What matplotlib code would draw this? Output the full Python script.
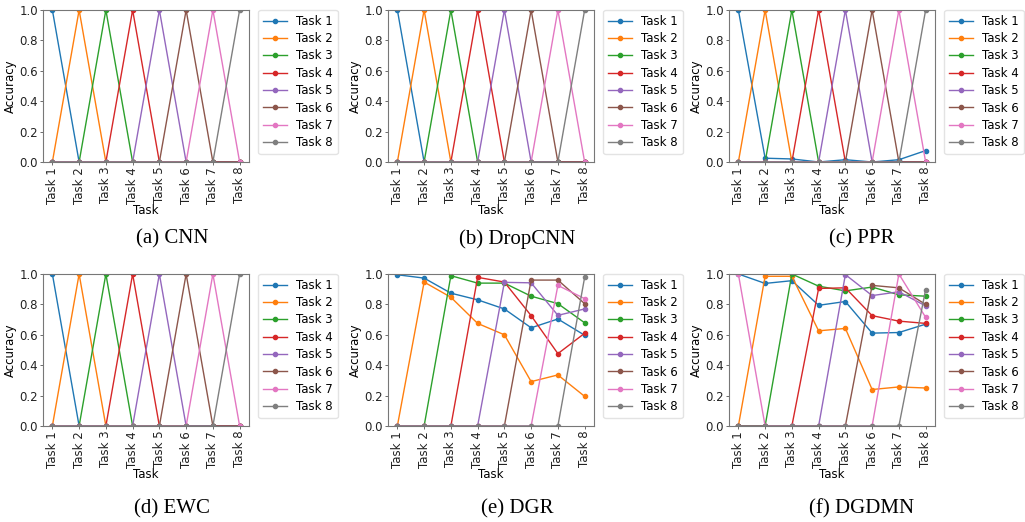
import matplotlib
matplotlib.use("Agg")
import matplotlib.pyplot as plt

tasks = ["Task 1", "Task 2", "Task 3", "Task 4", "Task 5", "Task 6", "Task 7", "Task 8"]
series_names = tasks

# one-hot style forgetting (CNN, DropCNN, EWC)
cnn = [[1.0 if j == i else 0.0 for j in range(8)] for i in range(8)]
dropcnn = [[1.0 if j == i else 0.0 for j in range(8)] for i in range(8)]
ewc = [[1.0 if j == i else 0.0 for j in range(8)] for i in range(8)]

ppr = [
    [1.0, 0.025, 0.02, 0.0, 0.015, 0.0, 0.015, 0.075],
    [0.0, 1.0, 0.0, 0.0, 0.0, 0.0, 0.0, 0.0],
    [0.0, 0.0, 1.0, 0.0, 0.0, 0.0, 0.0, 0.0],
    [0.0, 0.0, 0.0, 1.0, 0.0, 0.0, 0.0, 0.0],
    [0.0, 0.0, 0.0, 0.0, 1.0, 0.0, 0.0, 0.0],
    [0.0, 0.0, 0.0, 0.0, 0.0, 1.0, 0.0, 0.0],
    [0.0, 0.0, 0.0, 0.0, 0.0, 0.0, 1.0, 0.0],
    [0.0, 0.0, 0.0, 0.0, 0.0, 0.0, 0.0, 1.0],
]

dgr = [
    [0.995, 0.973, 0.874, 0.830, 0.770, 0.646, 0.704, 0.597],
    [0.0, 0.947, 0.847, 0.675, 0.600, 0.292, 0.336, 0.195],
    [0.0, 0.0, 0.989, 0.940, 0.940, 0.854, 0.805, 0.679],
    [0.0, 0.0, 0.0, 0.978, 0.947, 0.726, 0.476, 0.610],
    [0.0, 0.0, 0.0, 0.0, 0.945, 0.942, 0.728, 0.770],
    [0.0, 0.0, 0.0, 0.0, 0.0, 0.960, 0.960, 0.805],
    [0.0, 0.0, 0.0, 0.0, 0.0, 0.0, 0.925, 0.838],
    [0.0, 0.0, 0.0, 0.0, 0.0, 0.0, 0.0, 0.978],
]

dgdmn = [
    [1.0, 0.938, 0.956, 0.794, 0.819, 0.611, 0.615, 0.670],
    [0.0, 0.985, 0.985, 0.626, 0.642, 0.240, 0.257, 0.250],
    [0.0, 0.0, 1.0, 0.920, 0.889, 0.914, 0.863, 0.854],
    [0.0, 0.0, 0.0, 0.905, 0.909, 0.726, 0.690, 0.675],
    [0.0, 0.0, 0.0, 0.0, 0.996, 0.858, 0.883, 0.790],
    [0.0, 0.0, 0.0, 0.0, 0.0, 0.925, 0.909, 0.800],
    [1.0, 0.0, 0.0, 0.0, 0.0, 0.0, 1.0, 0.715],
    [0.0, 0.0, 0.0, 0.0, 0.0, 0.0, 0.0, 0.898],
]

panels = [
    ("(a) CNN", cnn), ("(b) DropCNN", dropcnn), ("(c) PPR", ppr),
    ("(d) EWC", ewc), ("(e) DGR", dgr), ("(f) DGDMN", dgdmn),
]
yticks = [0.0, 0.2, 0.4, 0.6, 0.8, 1.0]

W, H = 1025, 522
fig = plt.figure(figsize=(W / 100, H / 100), dpi=100)
colors = plt.rcParams['axes.prop_cycle'].by_key()['color']

col_x = [0, 345, 686]
cap_x = [172, 517, 862]
row_top = [10, 274]
ax_h = 152
ax_w = 206
cap_y = [239, 509]
fs = 8.5

for k, (cap, data) in enumerate(panels):
    r, c = divmod(k, 3)
    left = col_x[c] + 43
    top = row_top[r]
    ax = fig.add_axes([left / W, 1 - (top + ax_h) / H, ax_w / W, ax_h / H])
    x = list(range(len(tasks)))
    for i, vals in enumerate(data):
        ax.plot(x, vals, marker='o', markersize=3, linewidth=1,
                color=colors[i % 10], label=series_names[i])
    ax.set_ylim(0, 1.0)
    ax.set_xlim(-0.35, 7.35)
    ax.set_yticks(yticks)
    ax.set_yticklabels([f"{v:.1f}" for v in yticks], fontsize=fs)
    ax.set_xticks(x)
    ax.set_xticklabels(tasks, rotation=90, fontsize=fs)
    ax.set_xlabel("Task", fontsize=fs, labelpad=0)
    ax.set_ylabel("Accuracy", fontsize=fs, labelpad=2)
    ax.tick_params(length=2, width=0.6, pad=1.5, color='#555555', labelcolor='#222222')
    for s in ax.spines.values():
        s.set_color('#777777')
        s.set_linewidth(0.8)
    ax.legend(loc='upper left', bbox_to_anchor=(1.045, 1.0), borderaxespad=0,
              fontsize=fs, handlelength=2.0, labelspacing=0.37, borderpad=0.4,
              frameon=True, edgecolor='#dddddd')
    fig.text(cap_x[c] / W, 1 - cap_y[r] / H, cap, ha='center', va='center',
             fontsize=15, family='Liberation Serif')

fig.savefig("out.png", dpi=100)
